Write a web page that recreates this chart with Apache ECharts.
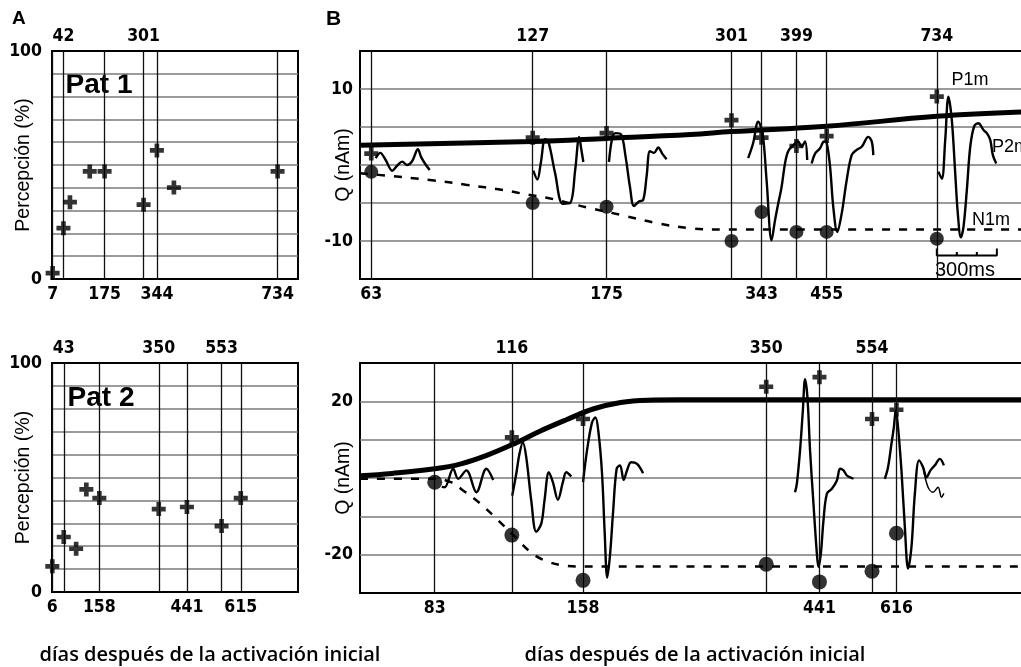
<!DOCTYPE html>
<html><head><meta charset="utf-8">
<script src="https://cdn.jsdelivr.net/npm/echarts@6/dist/echarts.min.js"></script>
<style>html,body{margin:0;padding:0;background:#fff}#c{width:1021px;height:667px}</style>
</head><body><div id="c"></div><script>
// ---------- Panel A : perception (%) vs days ----------
const pat1Days = [7, 42, 63, 127, 175, 301, 344, 399, 734];
const pat1Perc = [2.6, 22.3, 33.7, 47.2, 47.2, 32.6, 56.4, 40.1, 47.2];
const pat1TopTicks = [42, 301];
const pat1BottomTicks = [7, 175, 344, 734];

const pat2Days = [6, 43, 83, 116, 158, 350, 441, 553, 615];
const pat2Perc = [11.2, 24.0, 18.9, 44.8, 41.0, 36.2, 37.1, 28.8, 41.0];
const pat2TopTicks = [43, 350, 553];
const pat2BottomTicks = [6, 158, 441, 615];

// ---------- Panel B : Q (nAm) vs days (log) ----------
const b1Days = [63, 127, 175, 301, 343, 399, 455, 734];
const b1P1m = [1.5, 3.6, 4.2, 5.9, 3.6, 2.5, 3.8, 9.0];
const b1N1m = [-0.9, -5.0, -5.5, -10.0, -6.2, -8.8, -8.8, -9.7];
const b1TopTicks = [127, 301, 399, 734];
const b1BottomTicks = [63, 175, 343, 455];
const b1FitP1mDays = [60, 127, 175, 252, 301, 455, 734, 1100];
const b1FitP1m = [2.6, 3.1, 3.5, 4.0, 4.4, 5.1, 6.4, 7.0];
const b1FitN1mDays = [60, 65, 82, 95, 112, 120, 139, 161, 187, 216, 250, 290, 1100];
const b1FitN1m = [-1.1, -1.3, -2.0, -2.6, -3.3, -3.7, -4.5, -5.6, -6.6, -7.6, -8.3, -8.5, -8.5];

const b2P1mDays = [116, 158, 350, 441, 554, 616];
const b2P1m = [10.6, 15.4, 23.8, 26.3, 15.4, 17.8];
const b2N1mDays = [83, 116, 158, 350, 441, 554, 616];
const b2N1m = [-1.1, -14.9, -26.7, -22.5, -27.1, -24.3, -14.4];
const b2TopTicks = [116, 350, 554];
const b2BottomTicks = [83, 158, 441, 616];
const b2FitP1mDays = [60, 69, 83, 93, 104, 117, 131, 147, 165, 186, 209, 240, 1100];
const b2FitP1m = [0.6, 1.2, 2.4, 3.7, 5.9, 8.9, 12.2, 15.2, 18.0, 19.7, 20.3, 20.4, 20.4];
const b2FitN1mDays = [60, 83, 89, 94, 101, 107, 116, 126.5, 135, 145, 160, 1100];
const b2FitN1m = [-0.2, -0.2, -1.1, -3.3, -6.6, -9.8, -14.5, -19.6, -21.7, -22.8, -23.1, -23.1];

// ---------- MEG waveforms: [time ms relative to session, Q nAm] ----------
const wave1_063 = [[22,0.9],[45,1.6],[72,0.66],[105,-0.75],[128,-0.13],[155,0.44],[178,0],[205,0.53],[233,2.07],[250,1.0],[270,0.13],[292,-0.66]];
const wave1_127 = [[3,-0.75],[23,-1.9],[40,0.2],[62,3.4],[78,3.1],[112,-1.1],[150,-5.1],[187,-5.0],[212,-0.7],[232,3.7],[243,2.0],[253,0.4]];
const wave1_175 = [[12,0.4],[28,3.5],[45,4.2],[73,4.0],[95,1.1],[117,-2.9],[137,-5.4],[162,-4.8],[183,-4.6],[200,-1.5],[217,1.8],[237,1.6],[258,2.3],[278,1.5],[300,0.75]];
const wave1_343 = [[-67,0.9],[-42,2.9],[-17,5.7],[5,4.2],[25,-2.0],[50,-9.9],[67,-7.3],[83,-5.1],[100,-2.9],[117,0.2],[133,1.8],[158,2.6],[183,3.1],[200,2.4],[217,3.1],[228,0.66]];
const wave1_455 = [[-75,0.2],[-58,1.5],[-33,2.2],[-13,3.1],[0,2.9],[17,-0.2],[33,-5.5],[53,-8.8],[75,-6.4],[100,-2.0],[125,1.3],[150,2.0],[175,2.4],[208,3.7],[225,3.1],[233,1.3]];
const wave1_734 = [[8,-0.9],[25,-1.8],[42,3.3],[58,9.0],[75,5.9],[92,-1.1],[105,-6.4],[120,-9.5],[133,-8.2],[150,-3.3],[167,2.4],[187,5.1],[208,5.5],[233,4.6],[250,4.2],[267,3.3],[280,1.3],[297,0.2]];

const wave2_083 = [[35,-2.3],[50,-2.4],[92,2.4],[117,-0.2],[158,2.0],[208,-3.7],[258,2.4],[292,-0.5]];
const wave2_116 = [[2,-4.6],[22,1.1],[38,6.3],[55,9.3],[72,5.4],[97,-5.9],[122,-14.0],[147,-11.9],[163,-5.9],[185,1.5],[205,-1.1],[230,-5.7],[255,-1.1],[272,1.5],[297,0.4]];
const wave2_158 = [[0,-1.1],[20,7.2],[45,14.5],[62,15.8],[78,11.5],[95,1.1],[108,-14.0],[121,-26.0],[135,-20.0],[150,-9.0],[168,2.4],[185,3.3],[203,-0.5],[220,2.0],[240,4.1],[270,3.7],[300,1.25]];
const wave2_441 = [[-122,-3.7],[-113,-1.5],[-97,7.2],[-83,17.6],[-72,25.8],[-60,21.0],[-47,7.2],[-30,-6.7],[-13,-19.7],[-5,-23.2],[7,-19.7],[20,-11.1],[37,-4.1],[62,-2.8],[87,-0.65],[103,2.4],[120,2.0],[137,0.65],[153,0.2],[170,-0.2]];
const wave2_616 = [[-58,-0.2],[-42,2.8],[-25,8.9],[-13,13.2],[-3,17.6],[8,13.2],[25,2.0],[42,-12.8],[58,-23.6],[75,-18.0],[92,-4.1],[113,4.6],[133,2.8],[150,0.2],[170,2.0],[192,3.3],[217,5.0],[237,3.3]];
const wave2_616b = [[133,2.8],[158,-2.4],[183,-3.7],[208,-2.4],[225,-5.0],[237,-4.0]];

// scale bar (ms) drawn at session 734
const SCALE_BAR_MS = [0, 100, 200, 300];
const SCALE_BAR_DAY = 734;
const SCALE_BAR_Q = -11.9;
const MS_PER_DECADE = 2650; // 300 ms spans the same width as the 300 ms scale bar

// ---------- helpers ----------
const FONT = 'Liberation Sans';
const NUM_FONT = '"DejaVu Sans Condensed", "Liberation Sans"';
const PLUS = 'path://M4,0H8V4H12V8H8V12H4V8H0V4H4Z';
const zip = (a, b) => a.map((v, i) => [v, b[i]]);
const place = (day, pairs) => pairs.map(([t, q]) => [day * Math.pow(10, t / MS_PER_DECADE), q]);

function vLines(top, bottom) {
  return {
    silent: true, symbol: ['none', 'none'], animation: false,
    emphasis: {disabled: true},
    lineStyle: {color: '#111', width: 1.3, type: 'solid'},
    label: {show: true, color: '#000', fontSize: 17.5, fontWeight: 'bold', fontFamily: NUM_FONT, formatter: '{b}'},
    data: top.map(v => ({xAxis: v, name: String(v), label: {position: 'end', distance: 6}}))
      .concat(bottom.map(v => ({xAxis: v, name: String(v), label: {position: 'start', distance: 6}})))
  };
}

const gridBase = {show: true, borderColor: '#000', borderWidth: 2, backgroundColor: 'transparent', containLabel: false, outerBoundsMode: 'none'};
const hiddenX = {axisLine: {show: false}, axisTick: {show: false}, axisLabel: {show: false}, splitLine: {show: false}};
const splitStyle = {show: true, showMinLine: false, showMaxLine: false, lineStyle: {color: '#7a7a7a', width: 1.6}};

function yAxisDef(grid, min, max, interval, labelVals, name, gap, margin) {
  return {
    gridIndex: grid, type: 'value', min, max, interval,
    axisLine: {show: false}, axisTick: {show: false},
    axisLabel: {color: '#000', fontSize: 17.5, fontWeight: 'bold', fontFamily: NUM_FONT, margin,
      formatter: v => labelVals.indexOf(v) >= 0 ? String(v) : ''},
    splitLine: splitStyle,
    name, nameLocation: 'middle', nameRotate: 90, nameGap: gap, nameMoveOverlap: false,
    nameTextStyle: {color: '#000', fontSize: 19.5, fontFamily: FONT}
  };
}

function waveSeries(xi, yi, day, pairs, w) {
  return {type: 'line', xAxisIndex: xi, yAxisIndex: yi, data: place(day, pairs), smooth: 0.35,
    showSymbol: false, silent: true, lineStyle: {color: '#000', width: w || 2.4}, z: 4, animation: false};
}

// scale bar path
const sbX = ms => SCALE_BAR_DAY * Math.pow(10, ms / MS_PER_DECADE);
const scaleBar = [];
SCALE_BAR_MS.forEach((ms, i) => {
  const end = (i === 0 || i === SCALE_BAR_MS.length - 1);
  const tickTop = end ? SCALE_BAR_Q + 0.9 : SCALE_BAR_Q + 0.45;
  if (i > 0) scaleBar.push([sbX(ms), SCALE_BAR_Q]);
  scaleBar.push([sbX(ms), tickTop]);
  scaleBar.push([sbX(ms), SCALE_BAR_Q]);
});

const chart = echarts.init(document.getElementById('c'), null, {renderer: 'canvas'});
const option = {
  animation: false,
  backgroundColor: '#fff',
  textStyle: {fontFamily: FONT},
  grid: [
    Object.assign({left: 52, top: 51, width: 246, height: 228}, gridBase),
    Object.assign({left: 360, top: 51, width: 670, height: 228}, gridBase),
    Object.assign({left: 52, top: 363, width: 246, height: 229}, gridBase),
    Object.assign({left: 360, top: 363, width: 670, height: 230}, gridBase)
  ],
  xAxis: [
    Object.assign({gridIndex: 0, type: 'value', min: 5, max: 800}, hiddenX),
    Object.assign({gridIndex: 1, type: 'log', logBase: 10, min: 60, max: 1100}, hiddenX),
    Object.assign({gridIndex: 2, type: 'value', min: 5, max: 800}, hiddenX),
    Object.assign({gridIndex: 3, type: 'log', logBase: 10, min: 60, max: 1100}, hiddenX)
  ],
  yAxis: [
    yAxisDef(0, 0, 100, 10, [0, 100], 'Percepción (%)', 18, 10),
    yAxisDef(1, -15, 15, 5, [10, -10], 'Q (nAm)', 6, 7),
    yAxisDef(2, 0, 100, 10, [0, 100], 'Percepción (%)', 18, 10),
    yAxisDef(3, -30, 30, 10, [20, -20], 'Q (nAm)', 6, 7)
  ],
  series: [
    // Panel A
    {type: 'scatter', xAxisIndex: 0, yAxisIndex: 0, data: zip(pat1Days, pat1Perc), symbol: PLUS, symbolSize: 14,
      itemStyle: {color: '#000'}, z: 5, silent: true, markLine: vLines(pat1TopTicks, pat1BottomTicks)},
    {type: 'scatter', xAxisIndex: 2, yAxisIndex: 2, data: zip(pat2Days, pat2Perc), symbol: PLUS, symbolSize: 14,
      itemStyle: {color: '#000'}, z: 5, silent: true, markLine: vLines(pat2TopTicks, pat2BottomTicks)},
    // Panel B top
    {type: 'line', xAxisIndex: 1, yAxisIndex: 1, data: zip(b1FitP1mDays, b1FitP1m), smooth: 0.4, showSymbol: false,
      silent: true, lineStyle: {color: '#000', width: 5}, z: 3},
    {type: 'line', xAxisIndex: 1, yAxisIndex: 1, data: zip(b1FitN1mDays, b1FitN1m), smooth: 0.4, showSymbol: false,
      silent: true, lineStyle: {color: '#000', width: 2.5, type: [8, 9]}, z: 3},
    waveSeries(1, 1, 63, wave1_063),
    waveSeries(1, 1, 127, wave1_127),
    waveSeries(1, 1, 175, wave1_175),
    waveSeries(1, 1, 343, wave1_343),
    waveSeries(1, 1, 455, wave1_455),
    waveSeries(1, 1, 734, wave1_734),
    {type: 'line', xAxisIndex: 1, yAxisIndex: 1, data: scaleBar, smooth: false, showSymbol: false, silent: true,
      lineStyle: {color: '#000', width: 2}, z: 4},
    {type: 'scatter', xAxisIndex: 1, yAxisIndex: 1, data: zip(b1Days, b1P1m), symbol: PLUS, symbolSize: 14,
      itemStyle: {color: '#000'}, z: 6, silent: true},
    {type: 'scatter', xAxisIndex: 1, yAxisIndex: 1, data: zip(b1Days, b1N1m), symbol: 'circle', symbolSize: 14,
      itemStyle: {color: '#000'}, z: 6, silent: true, markLine: vLines(b1TopTicks, b1BottomTicks)},
    // Panel B bottom
    {type: 'line', xAxisIndex: 3, yAxisIndex: 3, data: zip(b2FitP1mDays, b2FitP1m), smooth: 0.4, showSymbol: false,
      silent: true, lineStyle: {color: '#000', width: 5}, z: 3},
    {type: 'line', xAxisIndex: 3, yAxisIndex: 3, data: zip(b2FitN1mDays, b2FitN1m), smooth: 0.4, showSymbol: false,
      silent: true, lineStyle: {color: '#000', width: 2.5, type: [8, 9]}, z: 3},
    waveSeries(3, 3, 83, wave2_083),
    waveSeries(3, 3, 116, wave2_116),
    waveSeries(3, 3, 158, wave2_158),
    waveSeries(3, 3, 441, wave2_441),
    waveSeries(3, 3, 616, wave2_616),
    waveSeries(3, 3, 616, wave2_616b, 1.5),
    {type: 'scatter', xAxisIndex: 3, yAxisIndex: 3, data: zip(b2P1mDays, b2P1m), symbol: PLUS, symbolSize: 14,
      itemStyle: {color: '#000'}, z: 6, silent: true},
    {type: 'scatter', xAxisIndex: 3, yAxisIndex: 3, data: zip(b2N1mDays, b2N1m), symbol: 'circle', symbolSize: 15,
      itemStyle: {color: '#000'}, z: 6, silent: true, markLine: vLines(b2TopTicks, b2BottomTicks)}
  ],
  graphic: [
    {type: 'text', left: 12, top: 9, style: {text: 'A', font: 'bold 19px "Liberation Sans"', fill: '#000'}},
    {type: 'text', left: 326, top: 9, style: {text: 'B', font: 'bold 21px "Liberation Sans"', fill: '#000'}},
    {type: 'text', x: 99, y: 85, style: {text: 'Pat 1', font: 'bold 28px "Liberation Sans"', fill: '#000', align: 'center', verticalAlign: 'middle'}},
    {type: 'text', x: 101, y: 398, style: {text: 'Pat 2', font: 'bold 28px "Liberation Sans"', fill: '#000', align: 'center', verticalAlign: 'middle'}},
    {type: 'text', x: 970, y: 80, style: {text: 'P1m', font: '18px "Liberation Sans"', fill: '#000', align: 'center', verticalAlign: 'middle'}},
    {type: 'text', x: 992, y: 147, style: {text: 'P2m', font: '18px "Liberation Sans"', fill: '#000', align: 'left', verticalAlign: 'middle'}},
    {type: 'text', x: 991, y: 220, style: {text: 'N1m', font: '18px "Liberation Sans"', fill: '#000', align: 'center', verticalAlign: 'middle'}},
    {type: 'text', x: 935, y: 270, style: {text: '300ms', font: '20px "Liberation Sans"', fill: '#000', align: 'left', verticalAlign: 'middle'}},
    {type: 'text', x: 210, y: 655, style: {text: 'días después de la activación inicial', font: '600 20px "Open Sans"', fill: '#000', align: 'center', verticalAlign: 'middle'}},
    {type: 'text', x: 695, y: 655, style: {text: 'días después de la activación inicial', font: '600 20px "Open Sans"', fill: '#000', align: 'center', verticalAlign: 'middle'}}
  ]
};
chart.setOption(option);
</script></body></html>
